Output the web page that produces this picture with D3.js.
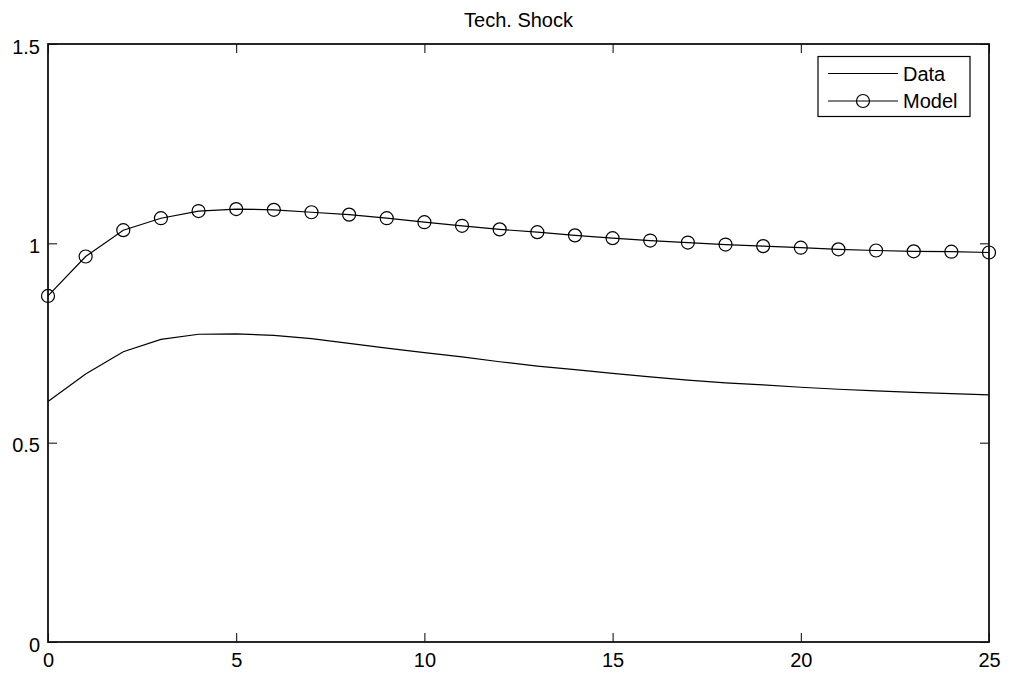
<!DOCTYPE html>
<html>
<head>
<meta charset="utf-8">
<script src="https://cdn.jsdelivr.net/npm/d3@7"></script>
<style>
  html, body { margin: 0; padding: 0; background: #fff; }
  svg { display: block; font-family: "Liberation Sans", Arial, Helvetica, sans-serif; }
</style>
</head>
<body>
<svg id="chart" width="1010" height="677"></svg>
<script>
const periods = d3.range(0, 26);
const dataSeries = [0.603, 0.672, 0.728, 0.759, 0.772, 0.773, 0.769, 0.761, 0.749, 0.737,
                    0.726, 0.715, 0.703, 0.692, 0.683, 0.674, 0.665, 0.657, 0.650, 0.645,
                    0.639, 0.634, 0.630, 0.626, 0.623, 0.620];
const modelSeries = [0.868, 0.967, 1.033, 1.063, 1.081, 1.086, 1.084, 1.078, 1.072, 1.063,
                     1.053, 1.044, 1.035, 1.028, 1.020, 1.013, 1.007, 1.002, 0.997, 0.993,
                     0.989, 0.985, 0.982, 0.980, 0.979, 0.977];
const xTicks = [0, 5, 10, 15, 20, 25];
const yTicks = [0, 0.5, 1, 1.5];
const yTickLabels = ["0", "0.5", "1", "1.5"];
const titleText = "Tech. Shock";
const legendLabels = ["Data", "Model"];

const svg = d3.select("#chart");
const L = 48, R = 989, T = 44, B = 642;
const x = d3.scaleLinear().domain([0, 25]).range([L, R]);
const y = d3.scaleLinear().domain([0, 1.5]).range([B, T]);
const fs = 20;

svg.append("rect").attr("x", 0).attr("y", 0).attr("width", 1010).attr("height", 677).attr("fill", "#fff");

const line = d3.line().x((d, i) => x(periods[i])).y(d => y(d));
svg.append("path").datum(dataSeries).attr("d", line)
  .attr("fill", "none").attr("stroke", "#000").attr("stroke-width", 1.2);
svg.append("path").datum(modelSeries).attr("d", line)
  .attr("fill", "none").attr("stroke", "#000").attr("stroke-width", 1.2);
svg.append("g").selectAll("circle").data(modelSeries).join("circle")
  .attr("cx", (d, i) => x(periods[i])).attr("cy", d => y(d)).attr("r", 6.5)
  .attr("fill", "none").attr("stroke", "#000").attr("stroke-width", 1.2);

const tl = 9;
const axB = svg.append("g").attr("transform", `translate(0,${B})`)
  .call(d3.axisBottom(x).tickValues(xTicks).tickSize(-tl).tickPadding(11).tickFormat(d3.format("d")));
const axT = svg.append("g").attr("transform", `translate(0,${T})`)
  .call(d3.axisTop(x).tickValues(xTicks).tickSize(-tl).tickFormat(""));
const axL = svg.append("g").attr("transform", `translate(${L},0)`)
  .call(d3.axisLeft(y).tickValues(yTicks).tickSize(-tl).tickPadding(8).tickFormat((d, i) => yTickLabels[i]));
const axR = svg.append("g").attr("transform", `translate(${R},0)`)
  .call(d3.axisRight(y).tickValues(yTicks).tickSize(-tl).tickFormat(""));
[axB, axT, axL, axR].forEach(g => {
  g.select(".domain").remove();
  g.selectAll(".tick line").attr("stroke", "#000").attr("stroke-width", 1);
  g.selectAll("text").attr("font-size", fs).attr("fill", "#000").attr("font-family", "Liberation Sans, Arial, sans-serif");
});
axB.selectAll("text").attr("dy", "0.71em");
axL.selectAll("text").attr("dy", "0.45em");

svg.append("rect").attr("x", L).attr("y", T).attr("width", R - L).attr("height", B - T)
  .attr("fill", "none").attr("stroke", "#111").attr("stroke-width", 1.8);

svg.append("text").attr("x", (L + R) / 2).attr("y", 27).attr("text-anchor", "middle")
  .attr("font-size", fs).attr("fill", "#000").text(titleText);

const lg = svg.append("g");
lg.append("rect").attr("x", 818).attr("y", 56.5).attr("width", 152).attr("height", 60)
  .attr("fill", "#fff").attr("stroke", "#000").attr("stroke-width", 1.2);
const rowsY = [73.5, 101];
rowsY.forEach((ry, i) => {
  lg.append("line").attr("x1", 828).attr("x2", 898).attr("y1", ry).attr("y2", ry)
    .attr("stroke", "#000").attr("stroke-width", 1.2);
  if (i === 1) {
    lg.append("circle").attr("cx", 863).attr("cy", ry).attr("r", 6.5)
      .attr("fill", "none").attr("stroke", "#000").attr("stroke-width", 1.2);
  }
  lg.append("text").attr("x", 903).attr("y", ry).attr("dy", "0.36em")
    .attr("font-size", fs).attr("fill", "#000").text(legendLabels[i]);
});
</script>
</body>
</html>
